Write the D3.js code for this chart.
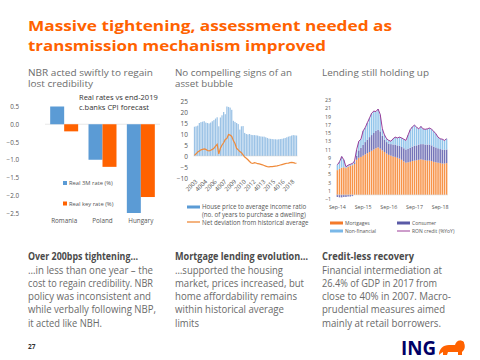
<!DOCTYPE html>
<html><head><meta charset="utf-8">
<script src="https://cdn.jsdelivr.net/npm/d3@7"></script>
<style>body{margin:0;background:#fff}svg{display:block}text{font-family:"Open Sans",sans-serif}</style>
</head><body><svg id="c" width="480" height="360"></svg>
<script>
// ---------- DATA ----------
const c1Categories = ["Romania", "Poland", "Hungary"];
const c1Real3M = [0.5, -1.0, -2.5];
const c1RealKey = [-0.2, -1.2, -2.05];
const c1Ticks = [0.5, 0, -0.5, -1, -1.5, -2, -2.5];

const c2HousePriceRatio = [13.3,13.5,13.8,15.0,15.4,15.6,15.8,15.2,15.0,14.8,15.2,15.8,16.3,17.0,17.6,13.5,
  17.5,18.5,20.0,19.0,22.5,22.3,22.0,21.0,16.0,15.5,15.0,14.5,12.0,13.5,13.6,10.5,
  10.0,9.8,10.0,9.6,9.5,9.5,9.4,9.3,9.0,8.9,8.8,8.8,8.5,8.2,7.9,7.8,
  7.7,7.6,7.6,7.5,7.6,7.7,7.8,8.0,8.2,8.5,8.8,9.0,9.3,9.5,9.4,9.3];
const c2NetDeviation = [0.3,1.0,1.8,2.3,2.8,3.0,3.2,3.0,2.5,2.3,2.6,3.0,3.5,4.5,5.3,1.0,
  3.5,5.0,6.0,7.5,8.0,9.8,9.5,8.9,7.0,5.7,3.5,2.8,2.0,1.5,0.5,-0.5,
  -1.0,-1.7,-2.5,-3.2,-3.4,-3.0,-3.2,-3.5,-3.6,-3.8,-4.0,-4.3,-4.6,-4.8,-4.9,-4.8,
  -4.8,-4.7,-4.6,-4.5,-4.3,-4.1,-3.9,-3.7,-3.5,-3.3,-3.2,-3.0,-2.9,-3.0,-3.2,-3.3];
const c2TickLabels = ["2003","4004","2006","4007","2009","2010","2012","4013","2015","4016","2018"];
const c2TickIndex = [0,6,12,18,24,30,36,42,48,54,60];
const c2YTicks = [25, 20, 15, 10, 5, 0, -5, -10];

const c3Mortgages = [6.0,6.3,6.6,6.7,6.5,6.8,7.0,7.2,7.5,8.5,9.0,9.2,9.5,9.8,10.1,10.4,
  10.7,11.0,11.3,11.5,11.2,10.8,10.4,10.0,9.7,9.5,9.3,9.2,9.0,8.8,8.5,8.1,
  7.8,7.9,8.0,8.2,8.3,8.4,8.5,8.6,8.5,8.4,8.3,8.3,8.2,8.0,7.9,7.8,7.7,7.6,7.6,7.7];
const c3Consumer = [-0.5,-0.6,-0.6,-0.5,-0.5,-0.4,-0.4,-0.3,0.4,1.0,1.8,2.2,2.6,3.0,3.3,3.6,
  3.8,4.0,4.2,4.3,4.2,3.5,3.0,2.8,2.7,2.8,2.9,3.0,3.0,3.1,3.1,3.2,
  3.2,3.3,3.4,3.5,3.6,3.6,3.7,3.7,3.8,3.8,3.9,3.9,3.8,3.7,3.6,3.5,3.4,3.4,3.3,3.3];
const c3NonFinancial = [1.3,1.7,2.7,1.8,0.3,0.4,0.4,0.4,0.3,1.5,2.2,2.1,3.4,3.5,4.1,4.6,
  5.3,5.3,4.7,5.0,4.1,1.7,1.1,0.8,0.8,0.7,1.4,1.8,1.8,2.1,2.2,2.2,
  2.2,3.3,4.4,4.8,5.0,4.4,3.8,4.3,3.7,3.7,3.8,4.0,3.9,3.7,3.3,2.7,2.5,2.5,2.3,2.6];
const c3RonCredit = [7.3,8.0,9.3,8.5,6.8,7.2,7.4,7.6,8.2,11.0,13.0,13.5,15.5,16.3,17.5,18.6,
  19.8,20.3,20.2,20.8,19.5,16.0,14.5,13.6,13.2,13.0,13.6,14.0,13.8,14.0,13.8,13.5,
  13.2,14.5,15.8,16.5,16.9,16.4,16.0,16.6,16.0,15.9,16.0,16.2,15.9,15.4,14.8,14.0,13.6,13.5,13.2,13.6];
const c3TickLabels = ["Sep-14","Sep-15","Sep-16","Sep-17","Sep-18"];
const c3TickIndex = [0,12,24,36,48];
const c3YTicks = [23,21,19,17,15,13,11,9,7,5,3,1,-1];

// ---------- TEXT ----------
const titleLines = ["Massive tightening, assessment needed as", "transmission mechanism improved"];
const subtitles = [["NBR acted swiftly to regain","lost credibility"],["No compelling signs of an","asset bubble"],["Lending still holding up"]];
const headers = ["Over 200bps tightening…","Mortgage lending evolution…","Credit-less recovery"];
const bodies = [
  ["…in less than one year – the","cost to regain credibility. NBR","policy was inconsistent and","while verbally following NBP,","it acted like NBH."],
  ["…supported the housing","market, prices increased, but","home affordability remains","within historical average","limits"],
  ["Financial intermediation at","26.4% of GDP in 2017 from","close to 40% in 2007. Macro-","prudential measures aimed","mainly at retail borrowers."]
];

// ---------- DRAW ----------
const svg = d3.select("#c");
const ORANGE = "#ff6200";
const LS = "Liberation Sans, Arial, sans-serif";

// title
const titleW = [364, 298];
titleLines.forEach((t,i)=>{
  svg.append("text").attr("x",28).attr("y",31.3+i*19.5).text(t)
    .attr("font-family",LS).attr("font-size",14.8).attr("font-weight",700).attr("fill",ORANGE)
    .attr("textLength",titleW[i]).attr("lengthAdjust","spacingAndGlyphs");
});
const colX = [28, 175, 322];
const subW = [[125,65],[117,58],[107]];
subtitles.forEach((lines,c)=>lines.forEach((t,i)=>{
  svg.append("text").attr("x",colX[c]).attr("y",75.8+i*11.6).text(t)
    .attr("font-family",LS).attr("font-size",8.8).attr("fill","#6e6e6e")
    .attr("textLength",subW[c][i]).attr("lengthAdjust","spacingAndGlyphs");
}));
const headW = [110,133,92];
headers.forEach((t,c)=>{
  svg.append("text").attr("x",colX[c]).attr("y",259.5).text(t)
    .attr("font-size",10.5).attr("font-weight",700).attr("fill","#4a4a4a")
    .attr("textLength",headW[c]).attr("lengthAdjust","spacingAndGlyphs");
});
const bodyW = [[125,125,123,128,74],[108,129,122,109,24],[120,115,129,123,119]];
bodies.forEach((lines,c)=>lines.forEach((t,i)=>{
  svg.append("text").attr("x",colX[c]).attr("y",273.5+i*13.3).text(t)
    .attr("font-size",10.5).attr("fill","#6a6a6a")
    .attr("textLength",bodyW[c][i]).attr("lengthAdjust","spacingAndGlyphs");
}));

// ---------- Chart 1 ----------
{
  const g = svg.append("g");
  const y = d3.scaleLinear().domain([-2.5,0.5]).range([213,106.5]);
  const x0 = d3.scaleBand().domain(c1Categories).range([45,160]).paddingInner(0.27).paddingOuter(0.135);
  const x1 = d3.scaleBand().domain(["3m","key"]).range([0,x0.bandwidth()]);
  const yAxis = d3.axisLeft(y).tickValues(c1Ticks).tickFormat(d3.format(".1f")).tickSize(0).tickPadding(0);
  const ya = g.append("g").attr("transform","translate(19,0)").call(yAxis);
  ya.select(".domain").remove();
  ya.selectAll("text").attr("font-size",6.3).attr("fill","#555").attr("font-family","Open Sans, sans-serif");
  g.append("line").attr("x1",45).attr("x2",160).attr("y1",y(0)).attr("y2",y(0)).attr("stroke","#d9d9d9").attr("stroke-width",0.6);
  const series = [{k:"3m",vals:c1Real3M,col:"#5b9bd5"},{k:"key",vals:c1RealKey,col:ORANGE}];
  series.forEach(s=>{
    g.selectAll(null).data(c1Categories).enter().append("rect")
      .attr("x",d=>x0(d)+x1(s.k)).attr("width",x1.bandwidth())
      .attr("y",(d,i)=>Math.min(y(0),y(s.vals[i])))
      .attr("height",(d,i)=>Math.abs(y(s.vals[i])-y(0)))
      .attr("fill",s.col);
  });
  g.selectAll(null).data(c1Categories).enter().append("text")
    .attr("x",d=>x0(d)+x0.bandwidth()/2).attr("y",223).attr("text-anchor","middle")
    .attr("font-size",6.3).attr("fill","#555").text(d=>d);
  g.append("text").attr("x",79).attr("y",100).attr("font-size",7.5).attr("fill","#333").text("Real rates vs end-2019");
  g.append("text").attr("x",79).attr("y",110).attr("font-size",7.5).attr("fill","#333").text("c.banks CPI forecast");
  const leg = [["Real 3M rate (%)","#5b9bd5",183],["Real key rate (%)",ORANGE,203.5]];
  leg.forEach(l=>{
    g.append("rect").attr("x",63).attr("y",l[2]-2).attr("width",4).attr("height",4).attr("fill",l[1]);
    g.append("text").attr("x",69).attr("y",l[2]+2).attr("font-size",5.8).attr("fill","#555").text(l[0]);
  });
}

// ---------- Chart 2 ----------
{
  const g = svg.append("g");
  const y = d3.scaleLinear().domain([-10,25]).range([178,101]);
  const x = d3.scaleBand().domain(d3.range(c2HousePriceRatio.length)).range([193.5,297.5]).padding(0.22);
  const ya = g.append("g").attr("transform","translate(188,0)")
    .call(d3.axisLeft(y).tickValues(c2YTicks).tickSize(0).tickPadding(0));
  ya.select(".domain").remove();
  ya.selectAll("text").attr("font-size",6.5).attr("fill","#555").attr("font-family","Open Sans, sans-serif");
  g.selectAll(null).data(c2HousePriceRatio).enter().append("rect")
    .attr("x",(d,i)=>x(i)).attr("width",x.bandwidth())
    .attr("y",d=>y(d)).attr("height",d=>y(0)-y(d))
    .attr("fill","#9cc3e6");
  g.append("line").attr("x1",193.5).attr("x2",297.5).attr("y1",y(0)).attr("y2",y(0)).attr("stroke","#d0d0d0").attr("stroke-width",0.5);
  const line = d3.line().x((d,i)=>x(i)+x.bandwidth()/2).y(d=>y(d));
  g.append("path").datum(c2NetDeviation).attr("d",line).attr("fill","none").attr("stroke","#ef8a3a").attr("stroke-width",1.2);
  c2TickLabels.forEach((t,k)=>{
    const xx = x(c2TickIndex[k]) + 4;
    g.append("text").attr("transform",`translate(${xx},182) rotate(-45)`)
      .attr("text-anchor","end").attr("font-size",6).attr("fill","#555").text(t);
  });
  g.append("rect").attr("x",187).attr("y",205.5).attr("width",13).attr("height",3).attr("fill","#5b9bd5");
  g.append("text").attr("x",202).attr("y",209).attr("font-size",6.2).attr("fill","#555").text("House price to average income ratio");
  g.append("text").attr("x",202).attr("y",216.5).attr("font-size",6.2).attr("fill","#555").text("(no. of years to purchase a dwelling)");
  g.append("line").attr("x1",187).attr("x2",200).attr("y1",222).attr("y2",222).attr("stroke","#ef8a3a").attr("stroke-width",1.3);
  g.append("text").attr("x",202).attr("y",224.5).attr("font-size",6.2).attr("fill","#555").text("Net deviation from historical average");
}

// ---------- Chart 3 ----------
{
  const g = svg.append("g");
  const n = c3Mortgages.length;
  const y = d3.scaleLinear().domain([-1,23]).range([199,100]);
  const x = d3.scaleBand().domain(d3.range(n)).range([336,448]).padding(0.3);
  const ya = g.append("g").attr("transform","translate(331,0)")
    .call(d3.axisLeft(y).tickValues(c3YTicks).tickSize(0).tickPadding(0));
  ya.select(".domain").remove();
  ya.selectAll("text").attr("font-size",5.3).attr("fill","#555").attr("font-family","Open Sans, sans-serif");
  const rows = d3.range(n).map(i=>({i, mort:c3Mortgages[i], cons:c3Consumer[i], nonfin:c3NonFinancial[i]}));
  const keys = ["mort","cons","nonfin"];
  const cols = {mort:"#f7944a", cons:"#7474b8", nonfin:"#92c5eb"};
  const stack = d3.stack().keys(keys).offset(d3.stackOffsetDiverging)(rows);
  stack.forEach(s=>{
    g.selectAll(null).data(s).enter().append("rect")
      .attr("x",d=>x(d.data.i)).attr("width",x.bandwidth())
      .attr("y",d=>y(Math.max(d[0],d[1]))).attr("height",d=>Math.abs(y(d[0])-y(d[1])))
      .attr("fill",cols[s.key]);
  });
  g.append("line").attr("x1",336).attr("x2",448).attr("y1",y(0)).attr("y2",y(0)).attr("stroke","#d0d0d0").attr("stroke-width",0.5);
  const line = d3.line().x((d,i)=>x(i)+x.bandwidth()/2).y(d=>y(d));
  g.append("path").datum(c3RonCredit).attr("d",line).attr("fill","none").attr("stroke","#9c3c98").attr("stroke-width",1);
  c3TickLabels.forEach((t,k)=>{
    g.append("text").attr("x",x(c3TickIndex[k])+x.bandwidth()/2).attr("y",209)
      .attr("text-anchor","middle").attr("font-size",5.3).attr("fill","#555").text(t);
  });
  const leg = [["Mortgages","#f47a2a",330,223,"rect"],["Consumer","#5a5aa6",397,223,"rect"],
               ["Non-financial","#7ab8e8",330,231,"rect"],["RON credit (%YoY)","#9c3c98",397,231,"line"]];
  leg.forEach(l=>{
    if(l[4]==="rect") g.append("rect").attr("x",l[2]).attr("y",l[3]-1.5).attr("width",13).attr("height",3).attr("fill",l[1]);
    else g.append("line").attr("x1",l[2]).attr("x2",l[2]+13).attr("y1",l[3]).attr("y2",l[3]).attr("stroke",l[1]).attr("stroke-width",1);
    g.append("text").attr("x",l[2]+15).attr("y",l[3]+1.8).attr("font-size",5).attr("fill","#555").text(l[0]);
  });
}

// ---------- footer ----------
svg.append("text").attr("x",28).attr("y",348.5).attr("font-size",6.5).attr("font-weight",700).attr("fill","#333").text("27");
svg.append("text").attr("x",401).attr("y",355).attr("font-family","Liberation Serif, serif").attr("font-weight",700)
  .attr("font-size",19).attr("fill","#000066").attr("textLength",35).attr("lengthAdjust","spacingAndGlyphs").text("ING");
const lion = svg.append("g").attr("fill",ORANGE);
lion.append("path").attr("d","M439,355 C439,349 443,345 449,345 L455,345 C456,341 460,339 463,342 C466,345 465,350 462,352 L462,355 L458,355 L458,352 L448,352 L447,355 L443,355 L443,352 C441,353 440,354 439,355 Z");
lion.append("circle").attr("cx",461).attr("cy",344).attr("r",3.2);
</script></body></html>
